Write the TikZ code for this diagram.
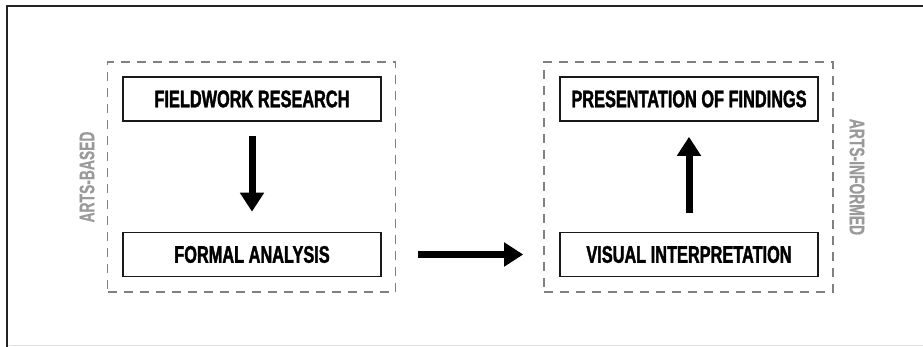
\documentclass[tikz,border=0pt]{standalone}
\usepackage{fontspec}
\newfontfamily\cond{Liberation Sans Bold}[FakeStretch=0.68, FakeBold=1.6]
\newfontfamily\condlabel{Liberation Sans Bold}[FakeStretch=0.66, FakeBold=0.6]
\usetikzlibrary{arrows.meta}
\definecolor{framegray}{HTML}{222222}
\definecolor{dashgray}{HTML}{808080}
\definecolor{labelgray}{HTML}{9A9A9A}
\tikzset{
  stepbox/.style={draw=black!90, line width=1.6pt, minimum width=258pt, minimum height=44pt, inner sep=0pt,
    font=\cond\fontsize{24}{28}\selectfont},
  groupbox/.style={draw=dashgray, line width=1.4pt, dash pattern=on 9pt off 7pt, minimum width=288pt, minimum height=230pt, inner sep=0pt},
  sidelabel/.style={text=labelgray, font=\condlabel\fontsize{21}{24}\selectfont, inner sep=0pt},
  bigarrow/.style={line width=7pt, -{Triangle[width=23pt,length=19pt]}}
}
\begin{document}
\begin{tikzpicture}[x=1pt,y=-1pt]
\useasboundingbox (0,0) rectangle (923,347);
\fill[white] (0,0) rectangle (923,347);
\coordinate (fbl) at (7.3,347);
\coordinate (ftl) at (7.3,5.7);
\coordinate (ftr) at (923,5.7);
\draw[framegray, line width=2.2pt] (fbl) -- (ftl) -- (ftr);
\coordinate (gbl) at (9,345.5);
\coordinate (gbr) at (923,345.5);
\draw[black!12, line width=1pt] (gbl) -- (gbr);

\node[groupbox] (gA) at (251.5,177) {};
\node[groupbox, minimum width=289pt] (gB) at (688.5,177) {};

\node[stepbox] (fr) at (252,99) {FIELDWORK RESEARCH};
\node[stepbox] (fa) at (252,254.5) {FORMAL ANALYSIS};
\node[stepbox] (pf) at (689,99) {PRESENTATION OF FINDINGS};
\node[stepbox] (vi) at (689,254.5) {VISUAL INTERPRETATION};

\node[sidelabel, rotate=90] (lA) at (87,177) {ARTS-BASED};
\node[sidelabel, rotate=-90] (lB) at (857,177) {ARTS-INFORMED};

\draw[bigarrow, shorten <=14pt, shorten >=20pt] (fr.south) -- (fa.north);
\draw[bigarrow, shorten <=19pt, shorten >=15pt] (vi.north) -- (pf.south);
\draw[bigarrow, shorten <=36pt, shorten >=36pt] (fa.east) -- (vi.west);
\end{tikzpicture}
\end{document}
